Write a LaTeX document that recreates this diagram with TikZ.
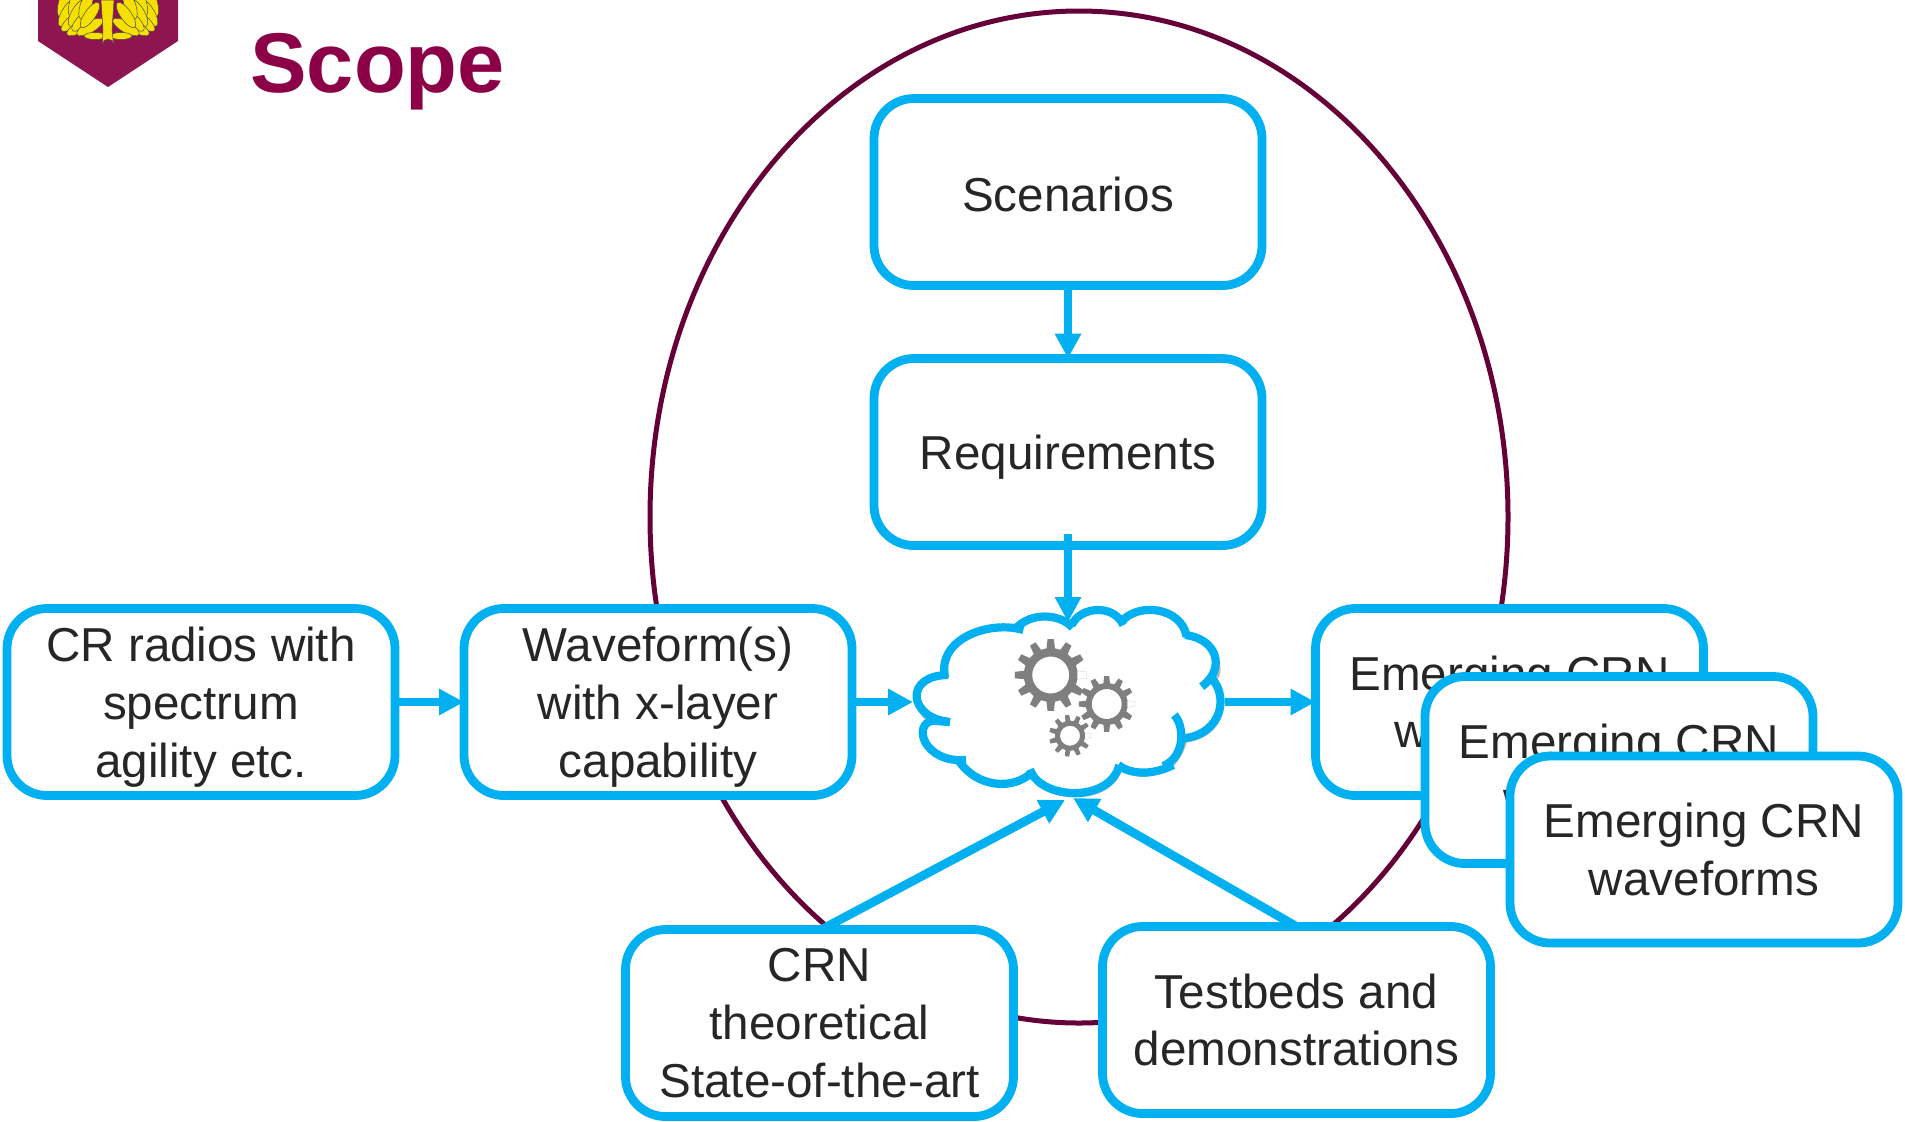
\documentclass[tikz,border=0pt]{standalone}
\usepackage{fontspec}
\setmainfont{Liberation Sans}
\usetikzlibrary{arrows.meta,shadows}
\definecolor{boxblue}{HTML}{00B0F0}
\definecolor{ringcol}{HTML}{660038}
\definecolor{titlecol}{HTML}{8C0048}
\definecolor{shieldcol}{HTML}{8E1550}
\definecolor{gearcol}{HTML}{7F7F7F}
\definecolor{txtcol}{HTML}{262626}
\definecolor{laurel}{HTML}{F5E000}
\newcommand{\gearshape}[6]{% cx cy Ro Ri teeth hole
  \pgfmathsetmacro{\stepa}{360/#5}
  \fill[gearcol,even odd rule]
    ({#1+#4*cos(-0.30*\stepa)},{#2+#4*sin(-0.30*\stepa)})
    \foreach \k in {0,...,#5}{
      -- ({#1+#4*cos(\k*\stepa-0.30*\stepa)},{#2+#4*sin(\k*\stepa-0.30*\stepa)})
      -- ({#1+#3*cos(\k*\stepa-0.17*\stepa)},{#2+#3*sin(\k*\stepa-0.17*\stepa)})
      -- ({#1+#3*cos(\k*\stepa+0.17*\stepa)},{#2+#3*sin(\k*\stepa+0.17*\stepa)})
      -- ({#1+#4*cos(\k*\stepa+0.30*\stepa)},{#2+#4*sin(\k*\stepa+0.30*\stepa)})
    } -- cycle
    (#1,#2) circle[radius=#6];
}
\tikzset{
  x=0.5pt,y=-0.5pt,
  roundbox/.style={draw=boxblue,fill=white,line width=4.4pt,rounded corners=20pt,
    minimum width=194pt,minimum height=93.5pt,inner sep=0pt,outer sep=0pt,
    align=center,text=txtcol,font=\fontsize{23.8}{28.9}\selectfont,
    drop shadow={shadow xshift=1pt,shadow yshift=-2pt,opacity=0.28,fill=black}},
  link/.style={draw=boxblue,line width=4.4pt,
    -{Triangle[length=12.5pt,width=12.5pt]}},
  leaf/.style={fill=laurel,draw=black!70,line width=0.25pt},
}
\begin{document}
\begin{tikzpicture}
\useasboundingbox (0,0) rectangle (1905,1121);
\fill[white] (0,0) rectangle (1905,1121);

% emblem
\begin{scope}
\clip (0,0) rectangle (1905,1121);
\fill[shieldcol] (38,0) -- (178,0) -- (178,41) -- (108,87) -- (38,41) -- cycle;
\foreach \x/\y/\a in {64/3/75,67/13/60,73/21/40,80/27/30,75/3/75,77/13/60,83/20/45,90/27/30,86/5/70,90/15/55}{
  \path[leaf] (\x,\y) ellipse[x radius=15,y radius=5.5,rotate=\a];
}
\foreach \x/\y/\a in {152/3/-75,149/13/-60,143/21/-40,136/27/-30,141/3/-75,139/13/-60,133/20/-45,126/27/-30,130/5/-70,126/15/-55}{
  \path[leaf] (\x,\y) ellipse[x radius=15,y radius=5.5,rotate=\a];
}
\path[leaf] (95,36) ellipse[x radius=11,y radius=3.5];
\path[leaf] (121,36) ellipse[x radius=11,y radius=3.5];
\path[leaf] (101,0) -- (114,0) -- (112,30) -- (113.5,44) arc[start angle=0,end angle=-180,x radius=5.5,y radius=5] -- (103,30) -- cycle;
\end{scope}

\node[anchor=base west,text=titlecol,font=\fontsize{42.4}{50}\bfseries\selectfont,inner sep=0pt] (title) at (250,92) {Scope};

% large ring
\draw[ringcol,line width=2.5pt] (1079,517) ellipse[x radius=429,y radius=506];

% boxes
\node[roundbox,text height=19pt,text depth=0pt] (scen) at (1068,192) {Scenarios};
\node[roundbox,text depth=0pt] (req) at (1068,452) {Requirements};
\node[roundbox,text depth=0pt] (cr) at (201,702) {CR radios with\\spectrum\\agility etc.};
\node[roundbox,text depth=0pt] (wave) at (658,702) {Waveform(s)\\with x-layer\\capability};
\node[roundbox] (em1) at (1509.5,702) {Emerging CRN\\waveforms};
\node[roundbox] (em2) at (1619,770) {Emerging CRN\\waveforms};
\node[roundbox] (em3) at (1704,849.5) {Emerging CRN\\waveforms};
\node[roundbox] (crn) at (819.5,1023) {CRN\\theoretical\\State-of-the-art};
\node[roundbox] (test) at (1296.5,1020) {Testbeds and\\demonstrations};

% cloud (zoomed coordinates: x'=880+x/3, y'=580+y/3)
\begin{scope}[shift={(880,580)},x=0.16667pt,y=-0.16667pt]
  \fill[white,drop shadow={shadow xshift=1pt,shadow yshift=-2pt,opacity=0.28,fill=black}]
    (190,285) .. controls (175,170) and (330,120) .. (410,145)
    .. controls (450,95) and (540,100) .. (575,135)
    .. controls (600,80) and (700,70) .. (730,125)
    .. controls (770,65) and (910,80) .. (920,165)
    .. controls (1010,175) and (1040,270) .. (995,295)
    .. controls (1050,340) and (1030,460) .. (915,475)
    .. controls (900,520) and (880,550) .. (850,560)
    .. controls (800,590) and (740,580) .. (720,555)
    .. controls (690,670) and (480,660) .. (450,575)
    .. controls (400,630) and (290,625) .. (250,540)
    .. controls (130,540) and (100,430) .. (160,420)
    .. controls (90,410) and (70,290) .. (190,285) -- cycle;
  \begin{scope}[draw=boxblue,line width=4.1pt]
  \draw (195,292) .. controls (170,175) and (330,120) .. (430,150);
  \draw (405,148) .. controls (450,95) and (540,100) .. (578,143);
  \draw (575,135) .. controls (600,80) and (700,70) .. (730,135);
  \draw (722,128) .. controls (770,65) and (905,80) .. (920,170);
  \draw (915,165) .. controls (1010,175) and (1040,265) .. (965,320);
  \draw (985,285) .. controls (1050,340) and (1030,460) .. (912,475);
  \draw (883,405) .. controls (915,440) and (915,530) .. (850,558);
  \draw (880,555) .. controls (810,590) and (745,580) .. (715,555);
  \draw (718,555) .. controls (690,670) and (480,660) .. (450,568);
  \draw (455,578) .. controls (400,630) and (290,625) .. (235,540);
  \draw (258,540) .. controls (130,550) and (95,430) .. (160,422) -- (208,426);
  \draw (210,426) .. controls (85,415) and (70,285) .. (205,285);
  \end{scope}
\end{scope}
\gearshape{1050.7}{675}{36}{27}{12}{18.5}
\gearshape{1106.7}{704}{28}{21}{12}{15}
\gearshape{1070}{735.7}{21}{15}{11}{10}

\coordinate (cloudTop) at (1068,622);
\coordinate (cloudLeft) at (913,702);
\coordinate (cloudRight) at (1225,702);
\coordinate (cloudBotL) at (1065,800);
\coordinate (cloudBotR) at (1073,798);

% connectors
\draw[link] (scen.south) -- (req.north);
\draw[link] ([yshift=6pt]req.south) -- (cloudTop);
\draw[link] (cr.east) -- (wave.west);
\draw[link] (wave.east) -- (cloudLeft);
\draw[link] (cloudRight) -- (em1.west);
\draw[link] ([xshift=1pt]crn.north) -- (cloudBotL);
\draw[link] (test.north) -- (cloudBotR);
\end{tikzpicture}
\end{document}
